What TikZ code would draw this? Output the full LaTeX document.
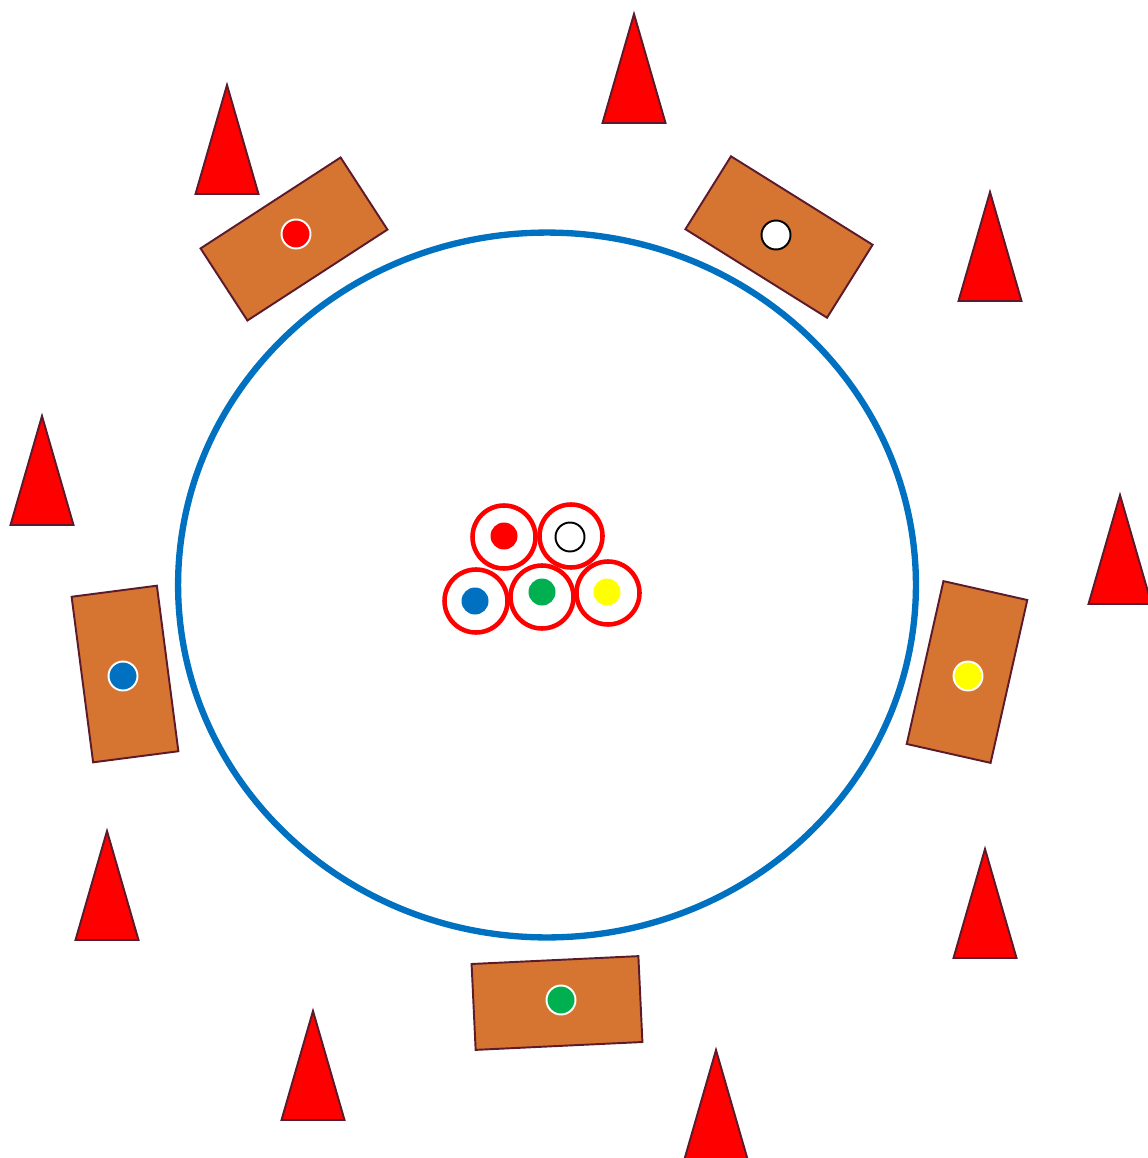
\documentclass[tikz,border=0pt]{standalone}
\usetikzlibrary{positioning}
\definecolor{padorange}{HTML}{D67431}
\definecolor{edgemaroon}{HTML}{5C1A2B}
\definecolor{trackblue}{HTML}{0070C0}
\definecolor{dotgreen}{HTML}{00B050}
\definecolor{dotblue}{HTML}{0070C0}
\definecolor{dotyellow}{HTML}{FFFF00}

\begin{document}
\begin{tikzpicture}[
    x=0.02cm, y=-0.02cm,
    pad/.style={rectangle, draw=edgemaroon, fill=padorange, line width=1.1pt,
        minimum width=3.34cm, minimum height=1.72cm, inner sep=0pt},
    dot/.style={circle, fill=#1, draw=white, line width=1.1pt, minimum size=0.58cm, inner sep=0pt},
    ring/.style={circle, draw=red, fill=white, line width=2.6pt, minimum size=1.26cm, inner sep=0pt},
    spot/.style={circle, fill=#1, minimum size=0.54cm, inner sep=0pt},
    cone/.style={draw=edgemaroon, fill=red, line width=1.1pt, line join=miter}
]
    \useasboundingbox (0,0) rectangle (1147,1158);

    % 中间的椭圆跑道
    \draw[trackblue, line width=3.6pt] (547,585) ellipse [x radius=7.38cm, y radius=7.05cm];

    % 1. 五块垫子 (旋转的矩形)
    \node[pad, rotate=33]    (padR) at (294,239) {};   % 左上
    \node[pad, rotate=-32]   (padW) at (779,237) {};   % 右上
    \node[pad, rotate=97.4]  (padB) at (125,674) {};   % 左
    \node[pad, rotate=77.3]  (padY) at (967,672) {};   % 右
    \node[pad, rotate=2.7]   (padG) at (557,1003) {};  % 下

    % 2. 垫子上的圆点
    \node[dot=red] (dotR) at (296,234) {};
    \node[dot=white, draw=black] (dotW) at (776,235) {};
    \node[dot=dotblue] (dotB) at (123,676) {};
    \node[dot=dotyellow] (dotY) at (968,676) {};
    \node[dot=dotgreen] (dotG) at (561,1000) {};

    % 3. 中心的五个圆圈
    \node[ring] (ringR) at (504,537) {};
    \node[ring] (ringW) at (571,536) {};
    \node[ring] (ringB) at (476,601) {};
    \node[ring] (ringG) at (542,597) {};
    \node[ring] (ringY) at (608,593) {};
    \node[spot=red] (spotR) at (504,536) {};
    \node[circle, draw=black, fill=white, line width=1.1pt, minimum size=0.58cm, inner sep=0pt] (spotW) at (570,537) {};
    \node[spot=dotblue] (spotB) at (475,601) {};
    \node[spot=dotgreen] (spotG) at (542,592) {};
    \node[spot=dotyellow] (spotY) at (607,592) {};

    % 4. 红色锥桶 (顶点坐标)
    \foreach \x/\y in {227/85, 634/14, 990/192, 42/416, 1120/495,
                       107/831, 985/849, 313/1011, 716/1050} {
        \draw[cone] (\x,\y) -- ++(-31.5,109) -- ++(63,0) -- cycle;
    }

\end{tikzpicture}
\end{document}
